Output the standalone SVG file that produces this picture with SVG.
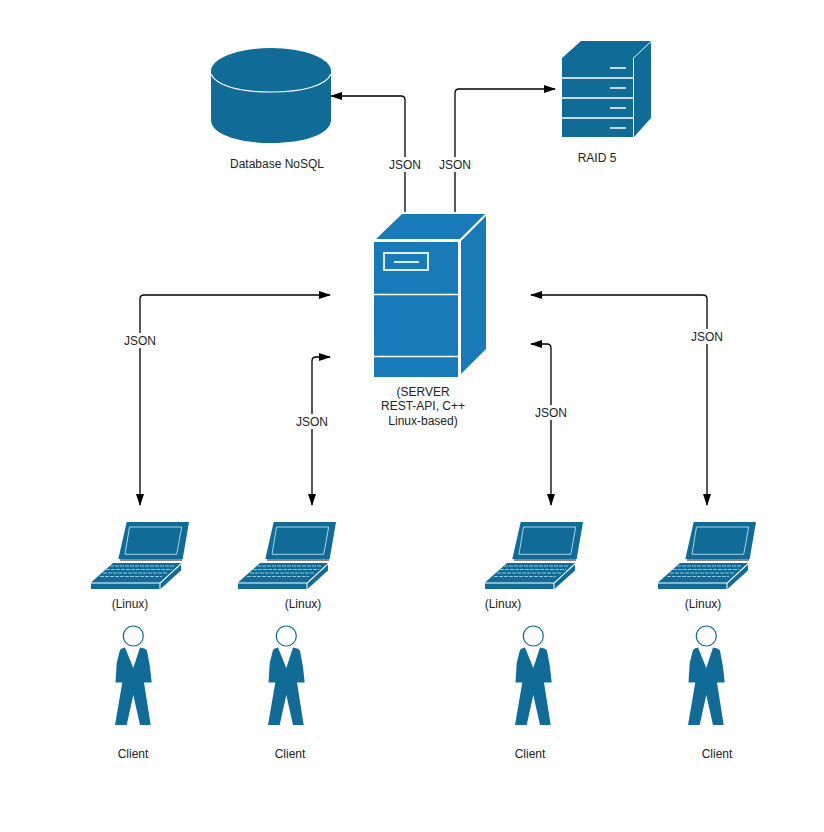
<svg xmlns="http://www.w3.org/2000/svg" width="824" height="832" viewBox="0 0 824 832">
<style>
text{font-family:"Liberation Sans",Arial,sans-serif;font-size:12px;fill:#222;text-anchor:middle}
.dark{fill:#106c97}
.srv{fill:#187ab9}
.wl{stroke:#fff;fill:none}
.cn{fill:none;stroke:#000;stroke-width:1.300}
</style>
<defs>
<marker id="arr" viewBox="0 0 12 8" refX="11" refY="4" markerWidth="12" markerHeight="8" markerUnits="userSpaceOnUse" orient="auto-start-reverse"><path d="M0 0L12 4L0 8Z" fill="#000"/></marker>
<g id="laptop">
<path class="dark" d="M126.700 522H189L182.700 559H118.300Z"/>
<path d="M129.500 527H181.700L176.700 554.300H125Z" fill="none" stroke="#a8d4e6" stroke-width="1"/>
<path d="M120 560H182" stroke="#111" stroke-width="1.200"/>
<path class="dark" d="M113 563H181L160 582.500H91Z"/>
<path d="M110 566H175M106 569.500H172M103 573H168M100 576.500H162" stroke="#8fc4da" stroke-width="1.200" stroke-dasharray="4 1"/>
<path class="dark" d="M91 583.500H159.500V589H91Z"/>
<path class="dark" d="M160.500 583.500L181 564.500V570.500L160.500 589Z"/>
</g>
<g id="person">
<circle cx="133.300" cy="636" r="10" fill="#fff" stroke="#106c97" stroke-width="1.200"/>
<path class="dark" d="M120 650Q122 647.500 125 647.500L133.300 668L140 647.500Q145 648 147 650.500L150 667L151.700 682.500H144L150.700 725H140L133.300 695L126.700 725H115L122.300 682.500H115.500L116.700 663Z"/>
</g>
</defs>

<g id="connectors">
<path class="cn" d="M405 212V100Q405 96 401 96H331" marker-end="url(#arr)"/>
<path class="cn" d="M455 212V93Q455 89 459 89H555" marker-end="url(#arr)"/>
<path class="cn" d="M330 295H144Q140 295 140 299V505" marker-start="url(#arr)" marker-end="url(#arr)"/>
<path class="cn" d="M330 357H316Q312 357 312 361V505" marker-start="url(#arr)" marker-end="url(#arr)"/>
<path class="cn" d="M531 344H547Q551 344 551 348V505" marker-start="url(#arr)" marker-end="url(#arr)"/>
<path class="cn" d="M531 295H703Q707 295 707 299V505" marker-start="url(#arr)" marker-end="url(#arr)"/>
<g>
<rect x="388" y="157" width="34" height="15" fill="#fff"/><text x="405" y="169">JSON</text>
<rect x="438" y="157" width="34" height="15" fill="#fff"/><text x="455" y="169">JSON</text>
<rect x="123" y="333" width="34" height="15" fill="#fff"/><text x="140" y="345">JSON</text>
<rect x="295" y="414" width="34" height="15" fill="#fff"/><text x="312" y="426">JSON</text>
<rect x="534" y="405" width="34" height="15" fill="#fff"/><text x="551" y="417">JSON</text>
<rect x="690" y="329" width="34" height="15" fill="#fff"/><text x="707" y="341">JSON</text>
</g>
</g>

<g id="database">
<path class="dark" d="M211 72V120C211 134 238 143 271 143S331 134 331 120V72Z"/>
<ellipse class="dark" cx="271" cy="71" rx="60" ry="23"/>
<path class="wl" stroke-width="1.200" d="M211 74C216 86 240 92 271 92S326 86 331 74"/>
<text x="277" y="168">Database NoSQL</text>
</g>

<g id="raid">
<path class="dark" d="M562 58L581 41H651L633 58Z"/>
<path class="dark" d="M634 58L651 42V118L634 137Z"/>
<path class="dark" d="M562 58H633V137H562Z"/>
<path d="M562 78H633M562 98H633M562 118H633" stroke="#fff" stroke-width="1.500"/>
<path d="M610 68H626M610 88H626M610 108H626M610 128H626" stroke="#fff" stroke-width="1.500"/>
<text x="597" y="162">RAID 5</text>
</g>

<g id="server">
<path class="srv" d="M376 239L402 214H485L460 239Z"/>
<path class="srv" d="M461 241L486 216V349L461 374Z"/>
<path class="srv" d="M374 242H458V377H374Z"/>
<rect x="384" y="253" width="44" height="17" fill="none" stroke="#fff" stroke-width="1.700"/>
<path d="M394 262H419" stroke="#fff" stroke-width="1.700"/>
<path d="M374 294.500H458M374 356.500H458" stroke="#fff" stroke-width="1.500"/>
<text x="423" y="396">(SERVER</text>
<text x="423" y="410">REST-API, C++</text>
<text x="423" y="425">Linux-based)</text>
</g>

<g id="laptop1"><use href="#laptop"/><text x="130" y="608">(Linux)</text></g>
<g id="laptop2"><use href="#laptop" x="147"/><text x="303" y="608">(Linux)</text></g>
<g id="laptop3"><use href="#laptop" x="394"/><text x="503" y="608">(Linux)</text></g>
<g id="laptop4"><use href="#laptop" x="567"/><text x="703" y="608">(Linux)</text></g>

<g id="client1"><use href="#person"/><text x="133" y="758">Client</text></g>
<g id="client2"><use href="#person" x="153"/><text x="290" y="758">Client</text></g>
<g id="client3"><use href="#person" x="400"/><text x="530" y="758">Client</text></g>
<g id="client4"><use href="#person" x="573"/><text x="717" y="758">Client</text></g>
</svg>
